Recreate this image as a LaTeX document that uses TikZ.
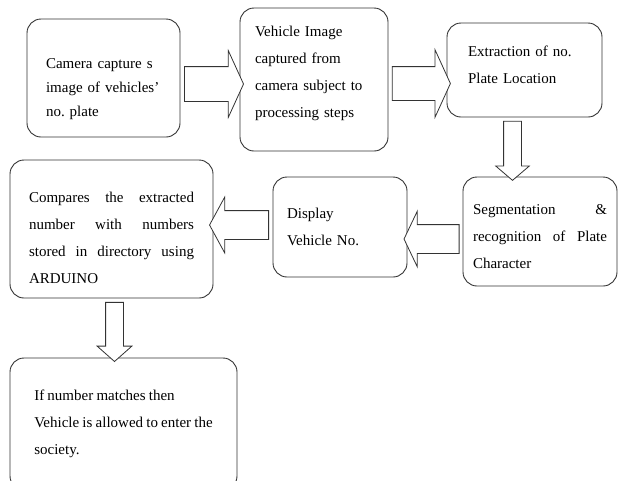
\documentclass[tikz,border=0pt]{standalone}
\usepackage{fontspec}
\setmainfont[WordSpace=0.85]{Liberation Serif}
\usetikzlibrary{calc,shapes.arrows}

\tikzset{
  box/.style={draw=black!80, line width=0.9pt, rounded corners=14pt, align=left,
    inner sep=0pt, font=\frenchspacing\fontsize{15}{27}\selectfont},
  blockarr/.style={single arrow, draw=black!80, line width=0.8pt, fill=white,
    inner xsep=0pt, minimum width=0pt}
}
% name, from, to, half shaft, head extend, tip angle
\newcommand{\blockarrow}[6]{%
  \path let \p1=(#2), \p2=(#3), \n1={veclen(\x2-\x1,\y2-\y1)},
    \n2={atan2(\y2-\y1,\x2-\x1)} in
    node[blockarr, inner ysep=#4, single arrow head extend=#5,
      single arrow tip angle=#6, minimum height=\n1, rotate=\n2] (#1)
    at ($(#2)!.5!(#3)$) {};}

\begin{document}
\begin{tikzpicture}[x=1pt, y=-1pt]
  \useasboundingbox (0,0) rectangle (620,480);

  \node[box, minimum width=153pt, minimum height=118pt, text width=115pt,
    font=\frenchspacing\fontsize{15}{24}\selectfont] (b1) at (103.5,78)
    {\rule{0pt}{32pt}Camera capture s\\ image of vehicles’\\ no. plate};
  \node[box, minimum width=148pt, minimum height=143pt, text width=118pt] (b2) at (314,79.5)
    {Vehicle Image\\ captured from\\ camera subject to\\
     processing steps\rule[-15pt]{0pt}{15pt}};
  \node[box, minimum width=155pt, minimum height=94pt, text width=113pt] (b3) at (524.5,70)
    {Extraction of no.\\ Plate Location\rule[-10pt]{0pt}{10pt}};

  \node[box, minimum width=203pt, minimum height=138pt, text width=165pt] (b4) at (111.5,229)
    {\rule{0pt}{28pt}Compares\hfill the\hfill extracted\\
     number\hfill with\hfill numbers\\
     stored\hfill in\hfill directory\hfill using\\ ARDUINO};
  \node[box, minimum width=134pt, minimum height=100pt, text width=106pt] (b5) at (340,227)
    {Display\\ Vehicle No.};
  \node[box, minimum width=154pt, minimum height=109pt, text width=134pt] (b6) at (540,231.5)
    {\rule{0pt}{20pt}Segmentation\hfill\&\\
     recognition\hfill of\hfill Plate\\ Character};

  \node[box, minimum width=227pt, minimum height=132pt] (b7) at (123.5,424)
    {If number matches then\\ Vehicle is allowed to enter the\\ society.};

  \coordinate (a1s) at ([yshift=-6pt]b1.east);
  \coordinate (a1e) at (b2.west |- a1s);
  \coordinate (a2s) at ([yshift=-4pt]b2.east);
  \coordinate (a2e) at (b3.west |- a2s);
  \coordinate (a3s) at ([xshift=-12pt]b3.south);
  \coordinate (a3e) at (b6.north -| a3s);
  \coordinate (a4s) at ([yshift=-7.5pt]b6.west);
  \coordinate (a4e) at (b5.east |- a4s);
  \coordinate (a5s) at ([yshift=2pt]b5.west);
  \coordinate (a5e) at (b4.east |- a5s);
  \coordinate (a6s) at ([xshift=3pt]b4.south);
  \coordinate (a6e) at (b7.north -| a6s);

  \blockarrow{a1}{a1s}{a1e}{17pt}{16pt}{131}
  \blockarrow{a2}{a2s}{a2e}{16.5pt}{17pt}{131}
  \blockarrow{a3}{a3s}{a3e}{8.5pt}{8pt}{99}
  \blockarrow{a4}{a4s}{a4e}{14pt}{13.5pt}{129}
  \blockarrow{a5}{a5s}{a5e}{14pt}{13.5pt}{123}
  \blockarrow{a6}{a6s}{a6e}{8.5pt}{8.5pt}{97}
\end{tikzpicture}
\end{document}
